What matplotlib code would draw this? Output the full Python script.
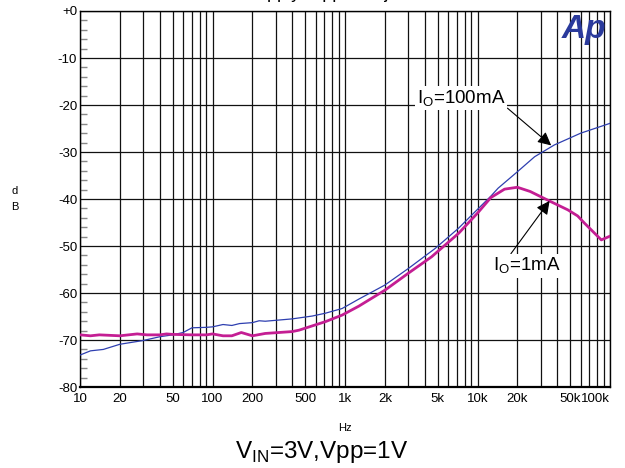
import matplotlib
matplotlib.use("Agg")
import matplotlib.pyplot as plt
from matplotlib.ticker import FixedLocator, NullFormatter

plt.rcParams['font.family'] = ['Liberation Sans', 'DejaVu Sans']
plt.rcParams['mathtext.fontset'] = 'custom'
plt.rcParams['mathtext.rm'] = 'Liberation Sans'

# Io = 100mA (blue, thin)
f_100 = [10, 12, 15, 20, 30, 40, 50, 60, 70, 90, 100, 120, 140, 160, 200, 225, 250,
         400, 565, 710, 950, 1270, 2000, 3000, 4800, 7200, 10000, 12600, 14300, 20000,
         27000, 38000, 60000, 100000]
db_100 = [-73.2, -72.3, -72.0, -70.9, -70.1, -69.3, -68.9, -68.4, -67.4, -67.3, -67.2,
          -66.7, -66.9, -66.5, -66.3, -65.9, -66.0, -65.5, -64.9, -64.3, -63.3, -61.3,
          -58.3, -54.8, -50.5, -46.2, -42.2, -39.4, -37.7, -34.2, -31.0, -28.5, -26.0,
          -23.9]

# Io = 1mA (magenta, thick)
f_1 = [10, 12, 14, 20, 27, 32, 40, 45, 50, 70, 90, 100, 120, 140, 165, 200, 250,
       400, 450, 565, 710, 950, 1270, 2000, 3000, 4500, 7200, 10000, 12600, 16000,
       20000, 25000, 30000, 36000, 48000, 57000, 64000, 76000, 86000, 100000]
db_1 = [-68.9, -69.1, -68.9, -69.1, -68.7, -68.9, -68.9, -68.7, -68.8, -68.9, -68.9,
        -68.7, -69.1, -69.1, -68.4, -69.1, -68.6, -68.2, -67.9, -67.0, -66.1, -64.7,
        -62.8, -59.4, -55.8, -52.3, -47.3, -43.0, -39.7, -37.9, -37.5, -38.4, -39.5,
        -40.6, -42.3, -43.6, -45.1, -47.2, -48.7, -47.9]

xticks = [10, 20, 50, 100, 200, 500, 1000, 2000, 5000, 10000, 20000, 50000, 100000]
xlabels = ['10', '20', '50', '100', '200', '500', '1k', '2k', '5k', '10k', '20k', '50k', '100k']
yticks = [0, -10, -20, -30, -40, -50, -60, -70, -80]
ylabels = ['+0', '-10', '-20', '-30', '-40', '-50', '-60', '-70', '-80']

fig = plt.figure(figsize=(6.25, 4.68), dpi=100)
ax = fig.add_axes([0.128, 0.173, 0.848, 0.8035])

# grid lines at every 1..9 per decade
grid_x = [m * 10 ** d for d in range(1, 5) for m in range(1, 10)] + [100000]
for gx in grid_x:
    ax.axvline(gx, color='#111111', lw=0.9, zorder=1)
for gy in yticks:
    ax.axhline(gy, color='#111111', lw=0.9, zorder=1)

ax.plot(f_100, db_100, color='#2e3fb0', lw=0.9, zorder=3)
ax.plot(f_1, db_1, color='#c41e93', lw=2.0, zorder=3)

ax.set_xscale('log')
ax.set_xlim(10, 100000)
ax.set_ylim(-80, 0)
ax.xaxis.set_major_locator(FixedLocator(xticks))
ax.xaxis.set_minor_locator(FixedLocator([]))
ax.xaxis.set_minor_formatter(NullFormatter())
ax.set_xticklabels(xlabels)
ax.set_yticks(yticks)
ax.set_yticklabels(ylabels)
ax.set_yticks([v for v in range(-78, 0, 2) if v % 10 != 0], minor=True)
ax.tick_params(axis='x', which='both', length=0, pad=4, labelsize=9.5)
ax.tick_params(axis='y', which='major', length=0, pad=2, labelsize=9.5)
ax.tick_params(axis='y', which='minor', direction='in', length=5, width=1, color='#888888')
ax.get_xticklabels()[-1].set_horizontalalignment('right')
for s in ax.spines.values():
    s.set_linewidth(1.0)
ax.spines['bottom'].set_linewidth(1.6)

# annotations
box = dict(boxstyle='square,pad=0.1', fc='white', ec='none')
ax.annotate('I$_{\\rm O}$=100mA', xy=(36000, -28.6), xytext=(3500, -18.6),
            fontsize=13.5, ha='left', va='center', bbox=box,
            arrowprops=dict(arrowstyle='-|>', color='black', lw=0.8, mutation_scale=20,
                            shrinkA=0, shrinkB=0, relpos=(1.0, 0.1)), zorder=5)
ax.annotate('I$_{\\rm O}$=1mA', xy=(35000, -40.4), xytext=(13000, -54.2),
            fontsize=13.5, ha='left', va='center', bbox=box,
            arrowprops=dict(arrowstyle='-|>', color='black', lw=0.8, mutation_scale=20,
                            shrinkA=0, shrinkB=0, relpos=(0.25, 1.0)), zorder=5)

ax.text(0.993, 0.993, 'Ap', transform=ax.transAxes, ha='right', va='top', fontsize=24,
        fontweight='bold', style='italic', color='#2a3a9c', zorder=6)

fig.text(0.024, 0.575, 'd\nB', ha='center', va='center', fontsize=8, linespacing=1.7)
fig.text(0.552, 0.085, 'Hz', ha='center', va='center', fontsize=8)
fig.text(0.515, 0.034, 'V$_{\\rm IN}$=3V,Vpp=1V', ha='center', va='center', fontsize=17.5)
fig.text(0.5, 1.004, 'Power Supply Ripple Rejection', ha='center', va='baseline',
         fontsize=13)

fig.savefig('out.png', dpi=100)
